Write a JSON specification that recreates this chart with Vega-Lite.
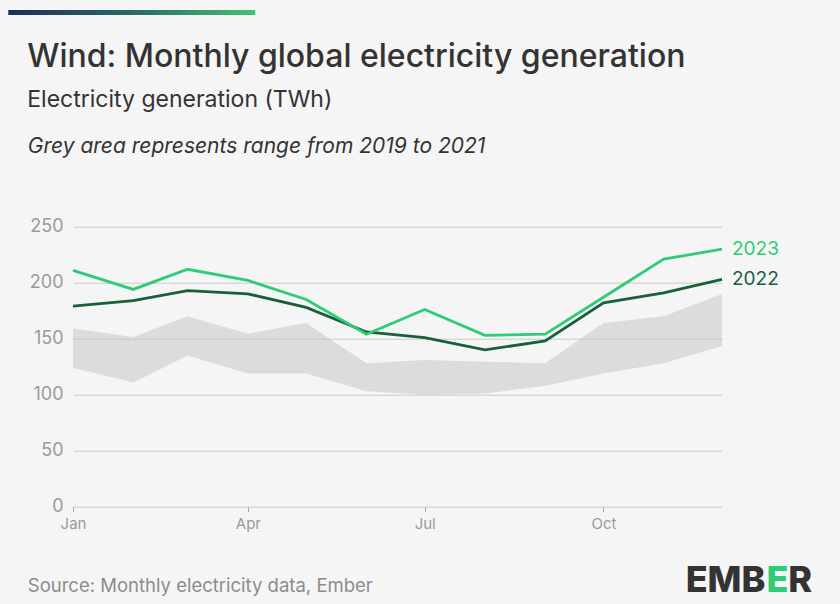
{
  "$schema": "https://vega.github.io/schema/vega-lite/v6.json",
  "background": "#f5f5f5",
  "padding": {"left": 8, "top": 10, "right": 30, "bottom": 10},
  "bounds": "flush",
  "spacing": 211.7,
  "config": {"font": "Inter", "view": {"stroke": null}},
  "datasets": {
    "lines": [
      {"month": "2023-01-01T00:00:00", "year": "2022", "value": 179},
      {"month": "2023-02-01T00:00:00", "year": "2022", "value": 184},
      {"month": "2023-03-01T00:00:00", "year": "2022", "value": 193},
      {"month": "2023-04-01T00:00:00", "year": "2022", "value": 190},
      {"month": "2023-05-01T00:00:00", "year": "2022", "value": 178},
      {"month": "2023-06-01T00:00:00", "year": "2022", "value": 156},
      {"month": "2023-07-01T00:00:00", "year": "2022", "value": 151},
      {"month": "2023-08-01T00:00:00", "year": "2022", "value": 140},
      {"month": "2023-09-01T00:00:00", "year": "2022", "value": 148},
      {"month": "2023-10-01T00:00:00", "year": "2022", "value": 182},
      {"month": "2023-11-01T00:00:00", "year": "2022", "value": 191},
      {"month": "2023-12-01T00:00:00", "year": "2022", "value": 203},
      {"month": "2023-01-01T00:00:00", "year": "2023", "value": 211},
      {"month": "2023-02-01T00:00:00", "year": "2023", "value": 194},
      {"month": "2023-03-01T00:00:00", "year": "2023", "value": 212},
      {"month": "2023-04-01T00:00:00", "year": "2023", "value": 202},
      {"month": "2023-05-01T00:00:00", "year": "2023", "value": 185},
      {"month": "2023-06-01T00:00:00", "year": "2023", "value": 154},
      {"month": "2023-07-01T00:00:00", "year": "2023", "value": 176},
      {"month": "2023-08-01T00:00:00", "year": "2023", "value": 153},
      {"month": "2023-09-01T00:00:00", "year": "2023", "value": 154},
      {"month": "2023-10-01T00:00:00", "year": "2023", "value": 187},
      {"month": "2023-11-01T00:00:00", "year": "2023", "value": 221},
      {"month": "2023-12-01T00:00:00", "year": "2023", "value": 230}
    ],
    "band": [
      {"month": "2023-01-01T00:00:00", "low": 124, "high": 159},
      {"month": "2023-02-01T00:00:00", "low": 111, "high": 151.5},
      {"month": "2023-03-01T00:00:00", "low": 135, "high": 170},
      {"month": "2023-04-01T00:00:00", "low": 119, "high": 154.5},
      {"month": "2023-05-01T00:00:00", "low": 119, "high": 164},
      {"month": "2023-06-01T00:00:00", "low": 103, "high": 128},
      {"month": "2023-07-01T00:00:00", "low": 100, "high": 131},
      {"month": "2023-08-01T00:00:00", "low": 101, "high": 129.5},
      {"month": "2023-09-01T00:00:00", "low": 108, "high": 128},
      {"month": "2023-10-01T00:00:00", "low": 119, "high": 164},
      {"month": "2023-11-01T00:00:00", "low": 128, "high": 170},
      {"month": "2023-12-01T00:00:00", "low": 143.5, "high": 190}
    ]
  },
  "vconcat": [
    {
      "width": 649,
      "height": 5,
      "data": {"values": [{"start": 0, "end": 1}]},
      "mark": {
        "type": "rect",
        "fill": {"gradient": "linear", "x1": 0, "x2": 1, "y1": 0, "y2": 0,
          "stops": [{"offset": 0, "color": "#1f2c58"}, {"offset": 0.5, "color": "#2a6a66"}, {"offset": 1, "color": "#43c26e"}]}
      },
      "encoding": {
        "x": {"field": "start", "type": "quantitative", "scale": {"domain": [0, 1], "range": [-64.7, 182.3], "nice": false, "zero": false}, "axis": null},
        "x2": {"field": "end"}
      }
    },
    {
      "width": 649,
      "height": 280,
      "title": {
        "text": "Wind: Monthly global electricity generation",
        "subtitle": "Electricity generation (TWh)",
        "anchor": "start",
        "frame": "bounds",
        "fontSize": 32,
        "fontWeight": 500,
        "color": "#333333",
        "subtitleFontSize": 23,
        "subtitleColor": "#333333",
        "subtitlePadding": 15,
        "offset": 22
      },
      "layer": [
        {
          "data": {"name": "band"},
          "mark": {"type": "area", "color": "#c4c4c4", "opacity": 0.5},
          "encoding": {
            "x": {
              "field": "month", "type": "temporal",
              "scale": {"domain": [{"year": 2023, "month": 1, "date": 1}, {"year": 2023, "month": 12, "date": 1}]},
              "axis": {
                "values": [{"year": 2023, "month": 1, "date": 1}, {"year": 2023, "month": 4, "date": 1}, {"year": 2023, "month": 7, "date": 1}, {"year": 2023, "month": 10, "date": 1}],
                "format": "%b",
                "grid": false,
                "domain": false,
                "labelFlush": false,
                "tickColor": "#a8a8a8",
                "tickSize": 5,
                "labelColor": "#9a9a9a",
                "labelFontSize": 15,
                "labelPadding": 5,
                "title": "Source: Monthly electricity data, Ember",
                "titleX": -45.7,
                "titleY": 78.3,
                "titleAlign": "left",
                "titleBaseline": "middle",
                "titleFontSize": 18.5,
                "titleFontWeight": "normal",
                "titleColor": "#8c8c8c"
              }
            },
            "y": {
              "field": "low", "type": "quantitative",
              "scale": {"domain": [0, 250], "nice": false, "zero": true},
              "axis": {
                "values": [0, 50, 100, 150, 200, 250],
                "domain": false,
                "ticks": false,
                "gridColor": "#cacaca",
                "gridWidth": 1,
                "labelColor": "#9a9a9a",
                "labelFontSize": 18,
                "labelPadding": 10,
                "title": "Grey area represents range from 2019 to 2021",
                "titleAngle": 0,
                "titleX": -45.7,
                "titleY": -80.7,
                "titleAlign": "left",
                "titleBaseline": "middle",
                "titleFontSize": 21,
                "titleFontStyle": "italic",
                "titleFontWeight": "normal",
                "titleColor": "#333333"
              }
            },
            "y2": {"field": "high"}
          }
        },
        {
          "data": {"name": "lines"},
          "mark": {"type": "line", "strokeWidth": 2.8},
          "encoding": {
            "x": {"field": "month", "type": "temporal"},
            "y": {"field": "value", "type": "quantitative", "scale": {"domain": [0, 250], "nice": false, "zero": true}},
            "color": {"field": "year", "type": "nominal", "scale": {"domain": ["2022", "2023"], "range": ["#17603a", "#2ecc76"]}, "legend": null}
          }
        },
        {
          "data": {"name": "lines"},
          "transform": [{"filter": "month(datum.month) == 11"}],
          "mark": {"type": "text", "align": "left", "baseline": "middle", "dx": 10, "fontSize": 19},
          "encoding": {
            "x": {"field": "month", "type": "temporal"},
            "y": {"field": "value", "type": "quantitative"},
            "text": {"field": "year"},
            "color": {"field": "year", "type": "nominal", "scale": {"domain": ["2022", "2023"], "range": ["#17603a", "#2ecc76"]}, "legend": null}
          }
        },
        {
          "data": {"values": [{"logo": "EMB"}]},
          "mark": {"type": "text", "align": "right", "baseline": "middle", "dx": 368, "dy": 214, "fontSize": 36, "fontWeight": 800, "color": "#333333"},
          "encoding": {"text": {"field": "logo"}}
        },
        {
          "data": {"values": [{"logo": "E"}]},
          "mark": {"type": "text", "align": "right", "baseline": "middle", "dx": 391, "dy": 214, "fontSize": 36, "fontWeight": 800, "color": "#2fcc78"},
          "encoding": {"text": {"field": "logo"}}
        },
        {
          "data": {"values": [{"logo": "R"}]},
          "mark": {"type": "text", "align": "right", "baseline": "middle", "dx": 414.5, "dy": 214, "fontSize": 36, "fontWeight": 800, "color": "#333333"},
          "encoding": {"text": {"field": "logo"}}
        }
      ]
    }
  ]
}
